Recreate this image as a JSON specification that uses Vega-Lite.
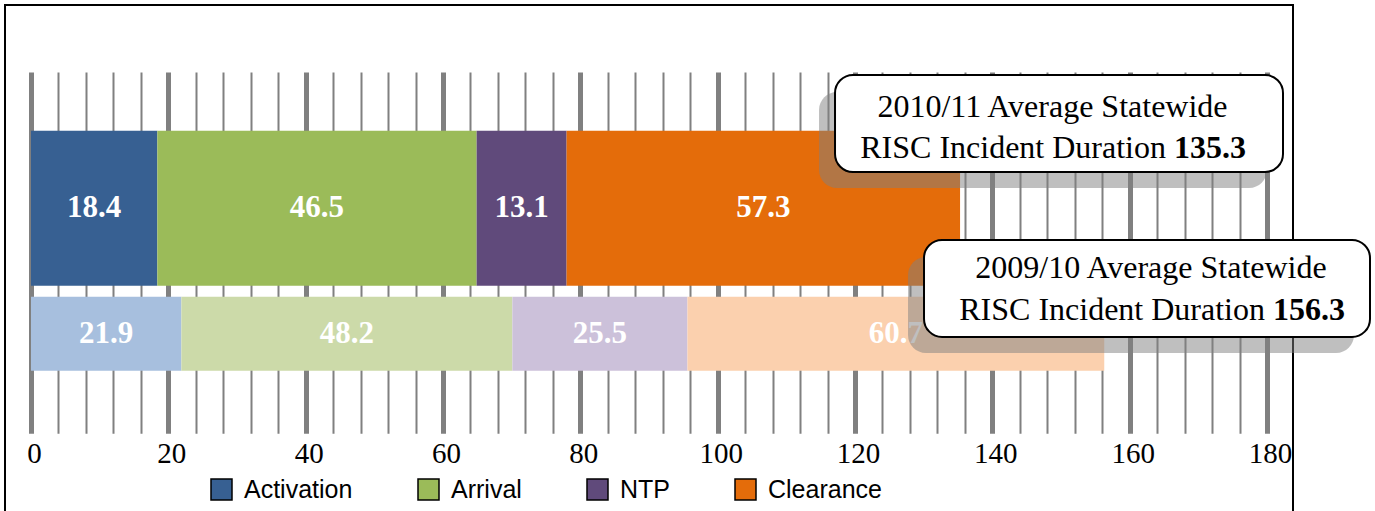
{
  "$schema": "https://vega.github.io/schema/vega-lite/v6.json",
  "width": 1288,
  "height": 508,
  "autosize": {"type": "none"},
  "padding": {"left": 5, "top": 5, "right": 82, "bottom": -2},
  "background": "white",
  "config": {"view": {"stroke": "black", "strokeWidth": 2}},
  "datasets": {
    "bars": [
      {"year": "2010/11", "phase": "Activation", "seg": 1, "value": 18.4, "key": "Activation 2010/11"},
      {"year": "2010/11", "phase": "Arrival", "seg": 2, "value": 46.5, "key": "Arrival 2010/11"},
      {"year": "2010/11", "phase": "NTP", "seg": 3, "value": 13.1, "key": "NTP 2010/11"},
      {"year": "2010/11", "phase": "Clearance", "seg": 4, "value": 57.3, "key": "Clearance 2010/11"},
      {"year": "2009/10", "phase": "Activation", "seg": 1, "value": 21.9, "key": "Activation 2009/10"},
      {"year": "2009/10", "phase": "Arrival", "seg": 2, "value": 48.2, "key": "Arrival 2009/10"},
      {"year": "2009/10", "phase": "NTP", "seg": 3, "value": 25.5, "key": "NTP 2009/10"},
      {"year": "2009/10", "phase": "Clearance", "seg": 4, "value": 60.7, "key": "Clearance 2009/10"}
    ],
    "boxes": [
      {"note": "2010/11", "kind": "shadow", "x1": 114.76, "x2": 180.0, "y1": 2.927, "y2": 2.162},
      {"note": "2010/11", "kind": "box", "x1": 117.09, "x2": 182.33, "y1": 3.062, "y2": 2.289},
      {"note": "2009/10", "kind": "shadow", "x1": 127.72, "x2": 192.67, "y1": 1.612, "y2": 0.847},
      {"note": "2009/10", "kind": "box", "x1": 130.05, "x2": 195.0, "y1": 1.747, "y2": 0.975}
    ],
    "notes": [
      {"note": "2010/11", "line": 1, "x": 148.76, "y": 2.731, "text": "2010/11 Average Statewide", "value": ""},
      {"note": "2010/11", "line": 2, "x": 165.29, "y": 2.398, "text": "RISC Incident Duration", "value": "135.3"},
      {"note": "2009/10", "line": 1, "x": 163.11, "y": 1.442, "text": "2009/10 Average Statewide", "value": ""},
      {"note": "2009/10", "line": 2, "x": 179.71, "y": 1.110, "text": "RISC Incident Duration", "value": "156.3"}
    ]
  },
  "layer": [
    {
      "data": {"name": "bars"},
      "layer": [
        {
          "mark": {"type": "bar"},
          "encoding": {
            "y": {
              "field": "year", "type": "nominal", "sort": ["2010/11", "2009/10"],
              "scale": {"range": [67, 428.3], "paddingInner": 0, "paddingOuter": 0.4395, "align": 0.667},
              "axis": null
            },
            "x": {
              "field": "value", "type": "quantitative", "stack": "zero",
              "scale": {"domain": [-3.786, 183.786], "nice": false, "zero": false},
              "axis": {
                "values": [0, 4, 8, 12, 16, 20, 24, 28, 32, 36, 40, 44, 48, 52, 56, 60, 64, 68, 72, 76, 80, 84, 88, 92, 96, 100, 104, 108, 112, 116, 120, 124, 128, 132, 136, 140, 144, 148, 152, 156, 160, 164, 168, 172, 176, 180],
                "tickCount": 100,
                "domain": false,
                "grid": false,
                "ticks": true,
                "tickColor": "#808080",
                "tickOpacity": 1,
                "tickSize": -361.3,
                "tickWidth": {"condition": {"test": "datum.value % 20 === 0", "value": 5}, "value": 2},
                "offset": -79.7,
                "labelExpr": "datum.value % 20 === 0 ? datum.label : ''",
                "labelPadding": 367.7,
                "labelOffset": 3,
                "labelFont": "Liberation Serif",
                "labelFontSize": 29,
                "labelColor": "black",
                "labelOverlap": false,
                "labelFlush": false,
                "labelBound": false,
                "title": null,
                "zindex": 0
              }
            },
            "color": {
              "field": "key", "type": "nominal",
              "scale": {
                "domain": ["Activation 2010/11", "Arrival 2010/11", "NTP 2010/11", "Clearance 2010/11", "Activation 2009/10", "Arrival 2009/10", "NTP 2009/10", "Clearance 2009/10"],
                "range": ["#376092", "#9BBB59", "#604A7B", "#E46C0A", "#A7BFDE", "#CCDAA9", "#CCC1DA", "#FBD0AE"]
              },
              "legend": {
                "values": ["Activation 2010/11", "Arrival 2010/11", "NTP 2010/11", "Clearance 2010/11"],
                "labelExpr": "split(datum.label, ' ')[0]",
                "orient": "none",
                "legendX": 204,
                "legendY": 472,
                "direction": "horizontal",
                "columns": 4,
                "columnPadding": 62,
                "symbolType": "square",
                "symbolSize": 441,
                "symbolStrokeColor": "black",
                "symbolStrokeWidth": 1.5,
                "symbolOpacity": 1,
                "labelFont": "Liberation Sans",
                "labelFontSize": 25,
                "labelColor": "black",
                "labelOffset": 10,
                "labelLimit": 0,
                "title": null
              }
            },
            "order": {"field": "seg", "type": "quantitative"},
            "size": {
              "field": "year", "type": "ordinal",
              "scale": {"domain": ["2010/11", "2009/10"], "range": [155, 74]},
              "legend": null
            }
          }
        },
        {
          "mark": {"type": "text", "color": "white", "font": "Liberation Serif", "fontWeight": "bold", "fontSize": 31, "baseline": "middle", "align": "center"},
          "encoding": {
            "y": {"field": "year", "type": "nominal", "sort": ["2010/11", "2009/10"], "axis": null},
            "x": {"field": "value", "type": "quantitative", "stack": "zero", "bandPosition": 0.5},
            "detail": {"field": "key"},
            "order": {"field": "seg", "type": "quantitative"},
            "text": {"field": "value", "type": "quantitative", "format": ".1f"}
          }
        }
      ]
    },
    {
      "layer": [
        {
          "data": {"name": "boxes"},
          "transform": [{"filter": "datum.kind === 'shadow'"}],
          "mark": {"type": "rect", "fill": "#7F7F7F", "opacity": 0.5, "cornerRadius": 18},
          "encoding": {
            "x": {"field": "x1", "type": "quantitative", "scale": {"domain": [-3.786, 183.786], "nice": false, "zero": false}},
            "x2": {"field": "x2"},
            "y": {"field": "y1", "type": "quantitative", "scale": {"domain": [-0.428, 3.62], "nice": false, "zero": false}, "axis": null},
            "y2": {"field": "y2"}
          }
        },
        {
          "data": {"name": "boxes"},
          "transform": [{"filter": "datum.kind === 'box'"}],
          "mark": {"type": "rect", "fill": "white", "stroke": "black", "strokeWidth": 2, "cornerRadius": 18},
          "encoding": {
            "x": {"field": "x1", "type": "quantitative", "scale": {"domain": [-3.786, 183.786], "nice": false, "zero": false}},
            "x2": {"field": "x2"},
            "y": {"field": "y1", "type": "quantitative", "scale": {"domain": [-0.428, 3.62], "nice": false, "zero": false}, "axis": null},
            "y2": {"field": "y2"}
          }
        },
        {
          "data": {"name": "notes"},
          "transform": [{"filter": "datum.line === 1"}],
          "mark": {"type": "text", "font": "Liberation Serif", "fontSize": 32, "color": "black", "align": "center", "baseline": "alphabetic"},
          "encoding": {
            "x": {"field": "x", "type": "quantitative", "scale": {"domain": [-3.786, 183.786], "nice": false, "zero": false}},
            "y": {"field": "y", "type": "quantitative", "scale": {"domain": [-0.428, 3.62], "nice": false, "zero": false}, "axis": null},
            "text": {"field": "text"}
          }
        },
        {
          "data": {"name": "notes"},
          "transform": [{"filter": "datum.line === 2"}],
          "mark": {"type": "text", "font": "Liberation Serif", "fontSize": 32, "color": "black", "align": "right", "baseline": "alphabetic"},
          "encoding": {
            "x": {"field": "x", "type": "quantitative", "scale": {"domain": [-3.786, 183.786], "nice": false, "zero": false}},
            "y": {"field": "y", "type": "quantitative", "scale": {"domain": [-0.428, 3.62], "nice": false, "zero": false}, "axis": null},
            "text": {"field": "text"}
          }
        },
        {
          "data": {"name": "notes"},
          "transform": [{"filter": "datum.line === 2"}],
          "mark": {"type": "text", "font": "Liberation Serif", "fontSize": 32, "fontWeight": "bold", "color": "black", "align": "left", "baseline": "alphabetic", "dx": 8},
          "encoding": {
            "x": {"field": "x", "type": "quantitative", "scale": {"domain": [-3.786, 183.786], "nice": false, "zero": false}},
            "y": {"field": "y", "type": "quantitative", "scale": {"domain": [-0.428, 3.62], "nice": false, "zero": false}, "axis": null},
            "text": {"field": "value"}
          }
        }
      ]
    }
  ],
  "resolve": {"scale": {"y": "independent"}}
}
